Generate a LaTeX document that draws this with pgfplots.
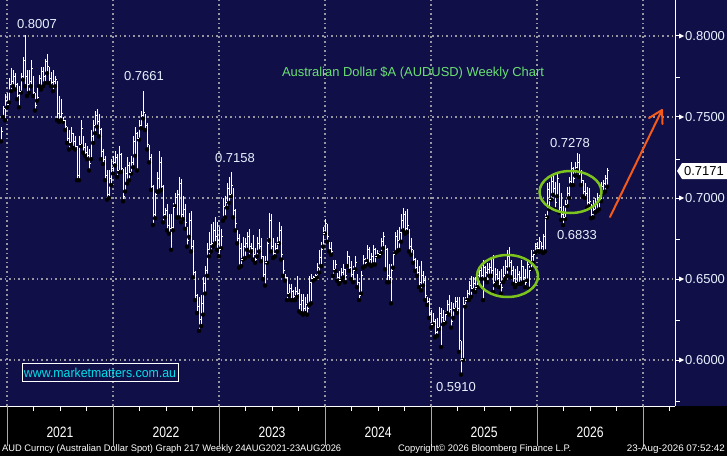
\documentclass[border=0pt]{standalone}
\usepackage{fontspec}
\setmainfont{Liberation Sans}
\usepackage{graphicx}
\usepackage{pgfplots}
\usepackage{pgfplotstable}
\pgfplotsset{compat=1.18}
\definecolor{navy}{RGB}{16,15,72}
\definecolor{gridc}{RGB}{150,150,160}
\definecolor{labc}{RGB}{232,242,255}
\definecolor{titlec}{RGB}{105,225,115}
\definecolor{wwwc}{RGB}{0,225,235}
\definecolor{ellc}{RGB}{125,195,30}
\definecolor{arrc}{RGB}{245,90,25}
\definecolor{sepc}{RGB}{170,170,170}
\pgfdeclareplotmark{otick}{\pgfpathmoveto{\pgfqpoint{-0.9pt}{0pt}}\pgfpathlineto{\pgfqpoint{0pt}{0pt}}\pgfusepathqstroke}
\pgfdeclareplotmark{ctick}{\pgfpathmoveto{\pgfqpoint{0pt}{0pt}}\pgfpathlineto{\pgfqpoint{0.9pt}{0pt}}\pgfusepathqstroke}
\pgfplotstableread{
x l h c
1 0.735 0.744 0.741
3 0.750 0.757 0.755
5 0.748 0.764 0.760
7 0.756 0.765 0.758
9 0.759 0.774 0.770
11 0.766 0.780 0.772
13 0.769 0.779 0.775
15 0.767 0.777 0.770
17 0.761 0.771 0.763
19 0.756 0.769 0.766
21 0.765 0.777 0.775
23 0.773 0.787 0.785
25 0.769 0.8007 0.775
27 0.763 0.779 0.770
29 0.765 0.779 0.772
31 0.769 0.785 0.780
33 0.763 0.775 0.765
35 0.754 0.765 0.757
37 0.760 0.769 0.762
39 0.769 0.776 0.774
41 0.767 0.781 0.778
43 0.769 0.781 0.775
45 0.771 0.786 0.784
47 0.777 0.789 0.781
49 0.771 0.781 0.774
51 0.769 0.778 0.771
53 0.766 0.779 0.772
55 0.769 0.775 0.773
57 0.748 0.772 0.752
59 0.747 0.763 0.750
61 0.748 0.761 0.752
63 0.747 0.750 0.748
65 0.742 0.748 0.744
67 0.734 0.744 0.737
69 0.730 0.742 0.734
71 0.733 0.744 0.740
73 0.731 0.740 0.735
75 0.730 0.738 0.732
77 0.711 0.732 0.714
79 0.711 0.738 0.733
81 0.732 0.748 0.743
83 0.728 0.738 0.731
85 0.726 0.734 0.728
87 0.724 0.732 0.726
89 0.717 0.730 0.721
91 0.724 0.742 0.738
93 0.734 0.748 0.745
95 0.740 0.754 0.751
97 0.744 0.755 0.747
99 0.738 0.752 0.742
101 0.724 0.743 0.729
103 0.721 0.730 0.724
105 0.711 0.726 0.714
107 0.699 0.717 0.702
109 0.700 0.717 0.712
111 0.708 0.724 0.718
113 0.715 0.726 0.722
115 0.720 0.729 0.725
117 0.713 0.727 0.717
119 0.716 0.732 0.727
121 0.716 0.728 0.718
123 0.698 0.718 0.701
125 0.704 0.719 0.715
127 0.709 0.725 0.720
129 0.711 0.722 0.716
131 0.715 0.726 0.722
133 0.719 0.738 0.735
135 0.726 0.744 0.740
137 0.717 0.741 0.737
139 0.736 0.748 0.745
141 0.743 0.754 0.751
143 0.749 0.7661 0.753
145 0.742 0.752 0.745
147 0.730 0.746 0.733
149 0.722 0.733 0.725
151 0.705 0.727 0.707
153 0.6834 0.708 0.690
155 0.6875 0.705 0.702
157 0.704 0.716 0.712
159 0.704 0.729 0.722
161 0.705 0.725 0.707
163 0.685 0.708 0.690
165 0.688 0.694 0.692
167 0.680 0.696 0.683
169 0.678 0.690 0.681
171 0.668 0.690 0.682
173 0.680 0.697 0.694
175 0.695 0.703 0.700
177 0.688 0.705 0.702
179 0.688 0.713 0.709
181 0.685 0.712 0.690
183 0.687 0.701 0.693
185 0.681 0.696 0.685
187 0.670 0.682 0.674
189 0.676 0.691 0.686
191 0.667 0.692 0.670
193 0.651 0.674 0.654
195 0.637 0.655 0.640
197 0.629 0.641 0.633
199 0.618 0.639 0.625
201 0.621 0.640 0.635
203 0.628 0.651 0.647
205 0.641 0.658 0.655
207 0.652 0.672 0.668
209 0.664 0.679 0.671
211 0.667 0.684 0.672
213 0.670 0.685 0.680
215 0.672 0.688 0.676
217 0.668 0.685 0.674
219 0.664 0.682 0.668
221 0.669 0.681 0.676
223 0.686 0.700 0.695
225 0.688 0.701 0.697
227 0.694 0.709 0.706
229 0.697 0.713 0.702
231 0.701 0.7158 0.708
233 0.688 0.706 0.692
235 0.680 0.693 0.684
237 0.672 0.680 0.675
239 0.657 0.678 0.669
241 0.658 0.672 0.662
243 0.662 0.676 0.670
245 0.663 0.675 0.672
247 0.668 0.679 0.676
249 0.664 0.681 0.670
251 0.667 0.672 0.669
253 0.662 0.677 0.665
255 0.660 0.669 0.662
257 0.664 0.676 0.672
259 0.667 0.681 0.670
261 0.661 0.675 0.664
263 0.650 0.664 0.653
265 0.646 0.664 0.660
267 0.660 0.675 0.672
269 0.674 0.691 0.686
271 0.667 0.690 0.670
273 0.663 0.675 0.666
275 0.664 0.672 0.669
277 0.667 0.676 0.672
279 0.672 0.685 0.680
281 0.662 0.683 0.665
283 0.652 0.662 0.655
285 0.649 0.653 0.651
287 0.637 0.651 0.641
289 0.640 0.647 0.644
291 0.637 0.647 0.642
293 0.637 0.643 0.639
295 0.637 0.645 0.642
297 0.639 0.652 0.641
299 0.630 0.644 0.634
301 0.629 0.641 0.637
303 0.628 0.641 0.632
305 0.629 0.639 0.634
307 0.628 0.641 0.632
309 0.634 0.652 0.648
311 0.635 0.653 0.650
313 0.649 0.652 0.651
315 0.650 0.653 0.652
317 0.651 0.660 0.657
319 0.654 0.668 0.663
321 0.658 0.673 0.668
323 0.670 0.682 0.678
325 0.678 0.687 0.684
327 0.673 0.684 0.676
329 0.667 0.673 0.669
331 0.665 0.673 0.667
333 0.652 0.662 0.656
335 0.655 0.662 0.659
337 0.649 0.654 0.651
339 0.647 0.655 0.649
341 0.649 0.657 0.654
343 0.651 0.659 0.656
345 0.648 0.656 0.652
347 0.658 0.667 0.664
349 0.655 0.664 0.657
351 0.650 0.661 0.653
353 0.648 0.658 0.655
355 0.656 0.664 0.660
357 0.645 0.653 0.648
359 0.637 0.648 0.640
361 0.641 0.655 0.652
363 0.657 0.665 0.662
365 0.658 0.663 0.660
367 0.661 0.671 0.668
369 0.659 0.670 0.662
371 0.658 0.666 0.664
373 0.659 0.671 0.668
375 0.659 0.669 0.664
377 0.664 0.668 0.666
379 0.664 0.667 0.665
381 0.666 0.675 0.673
383 0.669 0.679 0.676
385 0.656 0.671 0.668
387 0.648 0.669 0.652
389 0.648 0.659 0.651
391 0.635 0.659 0.655
393 0.657 0.667 0.665
395 0.666 0.679 0.676
397 0.667 0.680 0.674
399 0.668 0.682 0.679
401 0.673 0.690 0.686
403 0.680 0.694 0.690
405 0.678 0.692 0.681
407 0.679 0.693 0.683
409 0.667 0.681 0.670
411 0.665 0.675 0.668
413 0.660 0.668 0.662
415 0.655 0.663 0.657
417 0.652 0.662 0.654
419 0.645 0.658 0.648
421 0.643 0.661 0.652
423 0.646 0.655 0.649
425 0.637 0.652 0.640
427 0.634 0.639 0.636
429 0.626 0.638 0.628
431 0.620 0.631 0.622
433 0.622 0.629 0.624
435 0.614 0.625 0.617
437 0.615 0.626 0.620
439 0.619 0.633 0.629
441 0.608 0.632 0.626
443 0.622 0.631 0.624
445 0.623 0.630 0.628
447 0.629 0.637 0.634
449 0.628 0.640 0.631
451 0.620 0.636 0.624
453 0.626 0.635 0.632
455 0.631 0.639 0.636
457 0.629 0.639 0.632
459 0.605 0.639 0.612
461 0.591 0.612 0.600
463 0.600 0.639 0.634
465 0.633 0.639 0.637
467 0.637 0.643 0.641
469 0.637 0.649 0.646
471 0.639 0.652 0.644
473 0.643 0.651 0.647
475 0.642 0.651 0.645
477 0.645 0.655 0.652
479 0.645 0.658 0.655
481 0.650 0.658 0.652
483 0.637 0.662 0.657
485 0.650 0.658 0.654
487 0.648 0.660 0.656
489 0.652 0.660 0.657
491 0.652 0.663 0.655
493 0.642 0.665 0.648
495 0.646 0.657 0.653
497 0.648 0.656 0.650
499 0.645 0.655 0.648
501 0.641 0.656 0.645
503 0.648 0.658 0.652
505 0.650 0.662 0.658
507 0.652 0.668 0.664
509 0.656 0.670 0.660
511 0.651 0.662 0.655
513 0.647 0.658 0.650
515 0.645 0.656 0.648
517 0.647 0.658 0.653
519 0.647 0.655 0.651
521 0.647 0.662 0.658
523 0.648 0.658 0.651
525 0.645 0.656 0.648
527 0.649 0.662 0.659
529 0.644 0.658 0.655
531 0.656 0.668 0.664
533 0.660 0.668 0.665
535 0.666 0.672 0.670
537 0.667 0.673 0.669
539 0.667 0.676 0.673
541 0.667 0.673 0.670
543 0.666 0.678 0.676
545 0.667 0.690 0.688
547 0.688 0.709 0.705
549 0.693 0.710 0.699
551 0.699 0.714 0.710
553 0.702 0.715 0.706
555 0.693 0.710 0.697
557 0.701 0.715 0.712
559 0.691 0.709 0.694
561 0.6865 0.703 0.690
563 0.6833 0.695 0.688
565 0.687 0.699 0.696
567 0.695 0.707 0.703
569 0.700 0.713 0.710
571 0.708 0.722 0.718
573 0.708 0.719 0.712
575 0.714 0.722 0.719
577 0.717 0.7278 0.722
579 0.713 0.727 0.716
581 0.708 0.717 0.711
583 0.701 0.711 0.704
585 0.700 0.709 0.703
587 0.694 0.707 0.697
589 0.695 0.706 0.698
591 0.6875 0.696 0.690
593 0.688 0.699 0.693
595 0.691 0.700 0.697
597 0.692 0.703 0.700
599 0.693 0.702 0.699
601 0.698 0.710 0.707
603 0.703 0.711 0.709
605 0.704 0.714 0.712
607 0.707 0.7183 0.7171
}\data
\begin{document}
\begin{tikzpicture}
\useasboundingbox (0,0) rectangle (727pt,456pt);
\fill[navy] (0,50pt) rectangle (727pt,456pt);
\fill[black] (0,0) rectangle (727pt,50pt);
\begin{axis}[
  at={(0pt,50pt)}, anchor=south west,
  width=675pt, height=406pt, scale only axis,
  xmin=0, xmax=675, ymin=0.5716, ymax=0.82222,
  axis x line*=bottom, axis y line*=right,
  axis line style={white, line width=1pt},
  xtick={7,113,219,325,431,537,643},
  ytick={0.6,0.65,0.7,0.75,0.8},
  xticklabels={}, yticklabels={},
  tick style={draw=none},
  grid=major,
  major grid style={gridc, line width=1.5pt, dash pattern=on 1.6pt off 3pt},
  clip=false,
]
\addplot[only marks, mark=none, forget plot,
  error bars/.cd, y dir=plus, y explicit, error mark=none,
  error bar style={white, line width=1pt}]
  table[x=x, y=l, y error plus expr={\thisrow{h}-\thisrow{l}}] {\data};
\addplot[only marks, mark=ctick, white, mark options={line width=1pt}, forget plot]
  table[x=x, y=c] {\data};
\addplot[only marks, mark=otick, white, mark options={line width=1pt}, forget plot]
  table[x expr={\thisrow{x}+2}, y=c] {\data};
\end{axis}
\begin{scope}[x=1pt, y=-1pt, shift={(0pt,456pt)}]
  % right axis ticks
  \foreach \v/\py in {0.8000/36,0.7500/117,0.7000/198,0.6500/279,0.6000/360}{
    \draw[white, line width=1pt] (675,\py) -- (680,\py);
    \fill[white] (679,{\py-2.5}) -- (684,\py) -- (679,{\py+2.5}) -- cycle;
    \node[anchor=west, inner sep=0pt, text=labc, font=\fontsize{13}{13}\selectfont] at (685,\py) {\v};
  }
  \foreach \py in {78,159,239,320,401}{
    \draw[white, line width=1pt] (675,\py) -- (680,\py);
  }
  % last price box
  \fill[white] (677,171) -- (682,163) -- (727,163) -- (727,179) -- (682,179) -- cycle;
  \node[inner sep=0pt, text=black, font=\fontsize{13}{13}\selectfont] at (704,171.5) {0.7171};
  % bottom ticks and separators
  \foreach \q in {0,...,25}{
    \draw[white, line width=1pt] ({7+26.5*\q},406) -- ({7+26.5*\q},411);
  }
  \foreach \xs in {7,113,219,325,431,537,643}{
    \draw[sepc, line width=1pt] (\xs,406) -- (\xs,446);
  }
  \foreach \yr/\xc in {2021/60,2022/166,2023/272,2024/378,2025/484,2026/590}{
    \node[text=white, inner sep=0pt] at (\xc,432) {\resizebox{27pt}{\height}{\fontsize{15}{15}\selectfont \yr}};
  }
  % footer
  \node[anchor=west, inner sep=0pt, text=white] at (2,449)
    {\resizebox{339pt}{\height}{\fontsize{9.5}{9.5}\selectfont AUD Curncy (Australian Dollar Spot) Graph 217 Weekly 24AUG2021-23AUG2026}};
  \node[anchor=west, inner sep=0pt, text=white] at (398,449)
    {\resizebox{173pt}{\height}{\fontsize{9.5}{9.5}\selectfont Copyright© 2026 Bloomberg Finance L.P.}};
  \node[anchor=east, inner sep=0pt, text=white] at (725,449)
    {\resizebox{98pt}{\height}{\fontsize{9.5}{9.5}\selectfont 23-Aug-2026 07:52:42}};
  % annotations
  \foreach \t/\xc/\yc in {0.8007/37/24,0.7661/144/76,0.7158/235/158,0.5910/456/387,0.7278/570/143,0.6833/577/235}{
    \node[text=labc, inner sep=0pt, font=\fontsize{13}{13}\selectfont] at (\xc,\yc) {\t};
  }
  \node[text=titlec, inner sep=0pt] at (413,73)
    {\resizebox{262pt}{\height}{\fontsize{13}{13}\selectfont Australian Dollar \$A (AUDUSD) Weekly Chart}};
  \draw[white, line width=1pt] (22,363.5) rectangle (178,381.5);
  \node[text=wwwc, inner sep=0pt] at (100,372.5)
    {\resizebox{152pt}{\height}{\fontsize{13}{13}\selectfont www.marketmatters.com.au}};
  % ellipses
  \draw[ellc, line width=2.5pt] (507.5,276) ellipse [x radius=30.5, y radius=21];
  \draw[ellc, line width=2.5pt] (570.5,192) ellipse [x radius=31, y radius=21];
  % arrow
  \draw[arrc, line width=2pt, line cap=round] (610,217) -- (662,110);
  \draw[arrc, line width=2pt, line cap=round, line join=round] (649,118) -- (662,110) -- (662.5,124);
\end{scope}
\end{tikzpicture}
\end{document}
